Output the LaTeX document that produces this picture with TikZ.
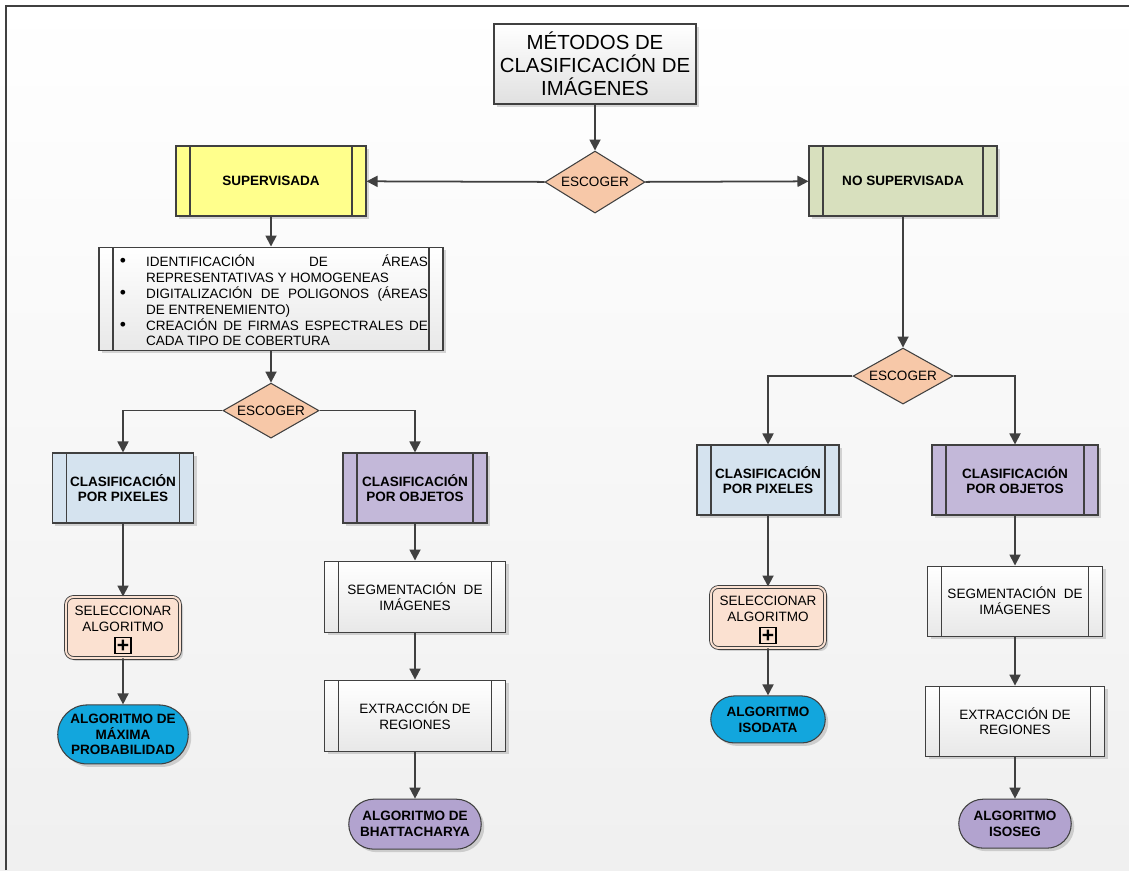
\documentclass[tikz,border=0pt]{standalone}
\usepackage{fontspec}
\setmainfont{Liberation Sans}
\usepackage{xcolor}
\usepackage{tikz}
\usetikzlibrary{positioning,arrows.meta,shapes.geometric,shapes.misc,shadows}

\definecolor{lineGray}{HTML}{404040}
\definecolor{choiceFill}{HTML}{F7C8A8}
\definecolor{supFill}{HTML}{FFFF8C}
\definecolor{nosupFill}{HTML}{D8E0BE}
\definecolor{pixFill}{HTML}{D5E3EF}
\definecolor{objFill}{HTML}{C3B8D9}
\definecolor{selFill}{HTML}{FBE1D1}
\definecolor{cyanFill}{HTML}{12A6DD}
\definecolor{purpFill}{HTML}{B2A3CF}

\newcommand{\boxfont}{\fontsize{7.7}{9}\selectfont}
\newcommand{\bitem}{\par\noindent\llap{{\fontsize{10}{9}\selectfont\textbullet}\hspace{4mm}}}

\begin{document}
\begin{tikzpicture}[
  x=0.2mm, y=-0.2mm,
  font=\boxfont,
  shadowed/.style={drop shadow={shadow xshift=0.6mm, shadow yshift=-0.6mm, opacity=0.15, fill=black}},
  pbox/.style={draw=lineGray, line width=0.6pt, align=center, minimum height=14mm, inner sep=2pt, shadowed,
    path picture={
      \draw[lineGray, line width=0.6pt] ([xshift=2.8mm]path picture bounding box.north west) -- ([xshift=2.8mm]path picture bounding box.south west);
      \draw[lineGray, line width=0.6pt] ([xshift=-2.8mm]path picture bounding box.north east) -- ([xshift=-2.8mm]path picture bounding box.south east);}},
  wbox/.style={pbox, top color=white, bottom color=black!9},
  btxt/.style={font=\boxfont\bfseries},
  titlebox/.style={draw=lineGray, line width=0.6pt, top color=white, bottom color=black!12, align=center,
    minimum width=40.4mm, minimum height=16mm, inner sep=2pt, font=\fontsize{11.6}{13.1}\selectfont, shadowed},
  choice/.style={diamond, aspect=1.6, draw=lineGray, line width=0.6pt, fill=choiceFill, inner sep=0pt,
    minimum width=20mm, minimum height=12.4mm},
  selbox/.style={draw=lineGray, line width=0.5pt, double=selFill, double distance=1.1pt, fill=selFill,
    rounded corners=1.5mm, align=center, minimum width=22.8mm, minimum height=12.2mm, text depth=3.4mm, shadowed},
  plusbox/.style={draw=black, line width=0.6pt, minimum size=3.2mm, inner sep=0pt, font=\bfseries\large},
  endpill/.style={rounded rectangle, draw=lineGray, line width=0.6pt, align=center, inner sep=1pt, btxt, shadowed},
  arr/.style={-{Triangle[length=2.2mm,width=2.2mm]}, line width=1pt, draw=lineGray},
]
\useasboundingbox (0,0) rectangle (1129,870);
\shade[top color=white, bottom color=black!6] (0,0) rectangle (1129,870);
\draw[lineGray, line width=0.7pt] (6,870) -- (6,6) -- (1129,6);

\node[titlebox] (title) at (595,64) {MÉTODOS DE\\CLASIFICACIÓN DE\\IMÁGENES};
\node[choice, below=9.2mm of title] (esc1) {ESCOGER};
\node[pbox, btxt, fill=supFill, minimum width=38mm] (sup) at (271,181) {SUPERVISADA};
\node[pbox, btxt, fill=nosupFill, minimum width=37.6mm] (nosup) at (903,181) {NO SUPERVISADA};

% supervisada
\node[wbox, below=6mm of sup, minimum height=20.6mm, text width=62.8mm, inner xsep=3mm, align=justify] (steps)
  {\leftskip=6.4mm \hyphenpenalty=10000 \exhyphenpenalty=10000 \tolerance=10000
   \bitem IDENTIFICACIÓN DE ÁREAS REPRESENTATIVAS Y HOMOGENEAS
   \bitem DIGITALIZACIÓN DE POLIGONOS (ÁREAS DE ENTRENEMIENTO)
   \bitem CREACIÓN DE FIRMAS ESPECTRALES DE CADA TIPO DE COBERTURA\par};
\node[choice, below=6.4mm of steps, minimum width=19.2mm, minimum height=11mm] (esc2) {ESCOGER};
\node[pbox, btxt, fill=pixFill, minimum width=28.2mm] (pixL) at (123,488) {CLASIFICACIÓN\\POR PIXELES};
\node[pbox, btxt, fill=objFill, minimum width=28.8mm] (objL) at (415,488) {CLASIFICACIÓN\\POR OBJETOS};
\node[selbox, below=14.6mm of pixL] (selL) {SELECCIONAR\\ALGORITMO};
\node[plusbox, anchor=south] (plusL) at ([yshift=0.8mm]selL.south) {+};
\node[endpill, fill=cyanFill, below=9.2mm of selL, minimum width=26.8mm, minimum height=11.8mm] (mpL) {ALGORITMO DE\\MÁXIMA\\PROBABILIDAD};
\node[wbox, below=7.4mm of objL, minimum width=36.2mm, minimum height=14.2mm] (segL) {SEGMENTACIÓN~~DE\\IMÁGENES};
\node[wbox, below=9.4mm of segL, minimum width=36.2mm, minimum height=14.2mm] (extL) {EXTRACCIÓN DE\\REGIONES};
\node[endpill, fill=purpFill, below=9.4mm of extL, minimum width=27.2mm, minimum height=10mm] (bhat) {ALGORITMO DE\\BHATTACHARYA};

% no supervisada
\node[choice, below=26.2mm of nosup, minimum height=11.2mm] (esc3) {ESCOGER};
\node[pbox, btxt, fill=pixFill, minimum width=28.4mm] (pixR) at (768,480) {CLASIFICACIÓN\\POR PIXELES};
\node[pbox, btxt, fill=objFill, minimum width=33.2mm] (objR) at (1015,480) {CLASIFICACIÓN\\POR OBJETOS};
\node[selbox, below=14.2mm of pixR] (selR) {SELECCIONAR\\ALGORITMO};
\node[plusbox, anchor=south] (plusR) at ([yshift=0.8mm]selR.south) {+};
\node[endpill, fill=cyanFill, below=9.4mm of selR, minimum width=23.6mm, minimum height=9.4mm] (iso) {ALGORITMO\\ISODATA};
\node[wbox, below=10mm of objR, minimum width=35mm] (segR) {SEGMENTACIÓN~~DE\\IMÁGENES};
\node[wbox, below=9.8mm of segR, minimum width=35.8mm] (extR) {EXTRACCIÓN DE\\REGIONES};
\node[endpill, fill=purpFill, below=8.4mm of extR, minimum width=23.2mm, minimum height=9.8mm] (isoseg) {ALGORITMO\\ISOSEG};

\draw[arr] (title) -- (esc1);
\draw[arr] (esc1) -- (sup);
\draw[arr] (esc1) -- (nosup);
\draw[arr] (sup) -- (steps);
\draw[arr] (steps) -- (esc2);
\draw[arr] (esc2.west) -| (pixL.north);
\draw[arr] (esc2.east) -| (objL.north);
\draw[arr] (pixL) -- (selL);
\draw[arr] (selL) -- (mpL);
\draw[arr] (objL) -- (segL);
\draw[arr] (segL) -- (extL);
\draw[arr] (extL) -- (bhat);
\draw[arr] (nosup) -- (esc3);
\draw[arr] (esc3.west) -| (pixR.north);
\draw[arr] (esc3.east) -| (objR.north);
\draw[arr] (pixR) -- (selR);
\draw[arr] (selR) -- (iso);
\draw[arr] (objR) -- (segR);
\draw[arr] (segR) -- (extR);
\draw[arr] (extR) -- (isoseg);
\end{tikzpicture}
\end{document}
